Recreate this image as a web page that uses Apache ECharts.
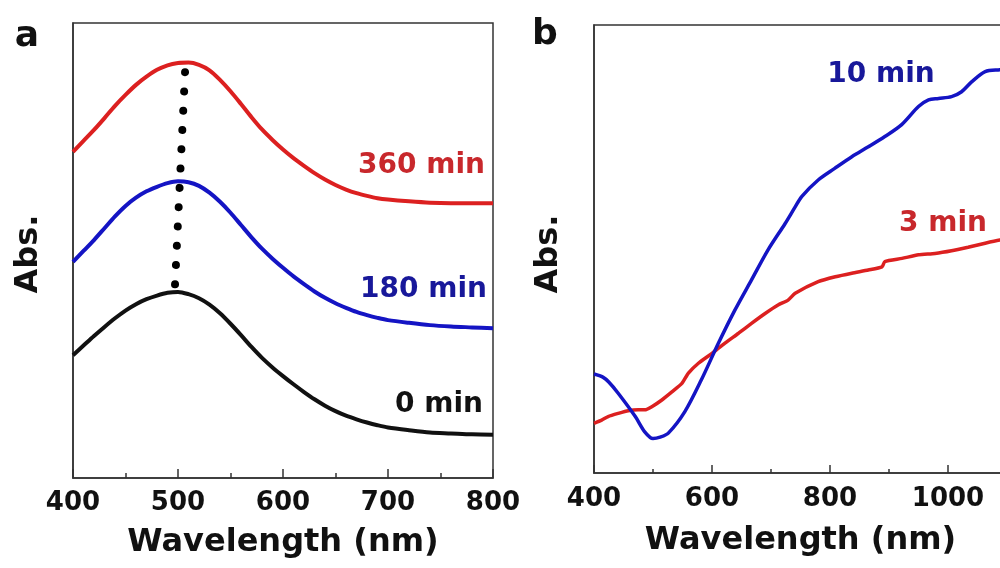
<!DOCTYPE html>
<html><head><meta charset="utf-8">
<script src="https://cdn.jsdelivr.net/npm/echarts@6/dist/echarts.min.js"></script>
<style>html,body{margin:0;padding:0;background:#fff}#c{width:1000px;height:568px}</style>
</head><body><div id="c"></div>
<script>
// ---- Panel a data (wavelength nm, absorbance a.u.) ----
const waveA      = [400, 410, 420, 430, 440, 450, 460, 470, 480, 490, 500, 510, 520, 530, 540, 550, 560, 570, 580, 590, 600, 610, 620, 630, 640, 650, 660, 670, 680, 690, 700, 720, 740, 760, 780, 800];
const abs0min    = [0.270, 0.291, 0.312, 0.332, 0.351, 0.368, 0.382, 0.393, 0.401, 0.407, 0.409, 0.404, 0.395, 0.381, 0.362, 0.339, 0.314, 0.288, 0.264, 0.243, 0.224, 0.206, 0.189, 0.173, 0.159, 0.147, 0.137, 0.129, 0.122, 0.116, 0.111, 0.105, 0.100, 0.098, 0.096, 0.095];
const abs180min  = [0.475, 0.499, 0.523, 0.549, 0.575, 0.598, 0.616, 0.630, 0.640, 0.648, 0.652, 0.650, 0.642, 0.627, 0.607, 0.583, 0.556, 0.529, 0.504, 0.482, 0.462, 0.443, 0.426, 0.410, 0.396, 0.384, 0.374, 0.365, 0.358, 0.352, 0.347, 0.341, 0.336, 0.333, 0.331, 0.329];
const abs360min  = [0.717, 0.741, 0.765, 0.791, 0.818, 0.842, 0.864, 0.882, 0.897, 0.907, 0.912, 0.913, 0.908, 0.896, 0.875, 0.850, 0.822, 0.793, 0.766, 0.743, 0.722, 0.703, 0.686, 0.670, 0.656, 0.644, 0.634, 0.626, 0.620, 0.615, 0.612, 0.608, 0.605, 0.604, 0.604, 0.604];
// peak-shift guide (dotted)
const peakWave   = [506.7, 497.1];
const peakAbs    = [0.892, 0.422];

// ---- Panel b data ----
const wave10 = [400, 415, 425, 441, 470, 486, 500, 512, 526, 554, 582, 611, 639, 667, 695, 724, 741, 752, 780, 808, 837, 865, 893, 921, 950, 967, 984, 1006, 1023, 1040, 1063, 1088, 1100];
const abs10  = [0.221, 0.214, 0.203, 0.178, 0.126, 0.092, 0.077, 0.080, 0.089, 0.137, 0.208, 0.290, 0.364, 0.431, 0.498, 0.557, 0.594, 0.617, 0.654, 0.680, 0.706, 0.728, 0.751, 0.777, 0.818, 0.833, 0.836, 0.840, 0.851, 0.873, 0.896, 0.900, 0.901];
const wave3  = [400, 413, 424, 441, 458, 475, 486, 498, 515, 532, 549, 560, 577, 600, 622, 645, 667, 690, 712, 729, 741, 780, 809, 837, 865, 888, 893, 922, 950, 978, 1006, 1034, 1063, 1088, 1100];
const abs3   = [0.111, 0.118, 0.126, 0.133, 0.139, 0.141, 0.141, 0.148, 0.163, 0.181, 0.200, 0.223, 0.245, 0.267, 0.290, 0.312, 0.334, 0.356, 0.375, 0.386, 0.401, 0.427, 0.438, 0.446, 0.453, 0.460, 0.472, 0.479, 0.487, 0.490, 0.496, 0.504, 0.513, 0.520, 0.522];

// ---- Text ----
const seriesNamesA = ['0 min', '180 min', '360 min'];
const seriesNamesB = ['3 min', '10 min'];
const xTitle = 'Wavelength (nm)';
const yTitle = 'Abs.';
const panelLetters = ['a', 'b'];

const FF = '"DejaVu Sans", "Liberation Sans", sans-serif';
const RED = '#dc2020', BLUE = '#1414c4', BLACK = '#111111';
const RED_T = '#c8282c', BLUE_T = '#18189a';
const zip = (xs, ys) => xs.map((x, i) => [x, ys[i]]);

function xAxisCfg(grid, min, max, interval, gap, margin, majorLen, minorLen, hideMax) {
  return {
    gridIndex: grid, type: 'value', min: min, max: max, interval: interval,
    axisLine: { show: true, lineStyle: { color: '#333', width: 1.5 } },
    axisTick: { show: true, inside: true, length: majorLen, lineStyle: { color: '#333', width: 1.5 } },
    minorTick: { show: true, splitNumber: 2, length: minorLen, lineStyle: { color: '#333', width: 1.5 } },
    splitLine: { show: false }, minorSplitLine: { show: false },
    axisLabel: { margin: margin, fontSize: 26, fontWeight: 'bold', fontFamily: FF, color: BLACK, showMaxLabel: !hideMax,
      formatter: v => String(v) },
    name: xTitle, nameLocation: 'middle', nameGap: gap,
    nameTextStyle: { fontSize: 32, fontWeight: 'bold', fontFamily: FF, color: BLACK }
  };
}
function yAxisCfg(grid) {
  return {
    gridIndex: grid, type: 'value', min: 0, max: 1,
    axisLine: { show: true, lineStyle: { color: '#333', width: 1.5 } },
    axisTick: { show: false }, axisLabel: { show: false }, splitLine: { show: false }
  };
}
function txt(text, x, y, color, size, align, rot) {
  return {
    type: 'text', x: x, y: y, rotation: rot || 0, z: 100,
    style: { text: text, fill: color, font: 'bold ' + size + 'px ' + FF, align: align, verticalAlign: 'middle' }
  };
}

const chart = echarts.init(document.getElementById('c'), null, { renderer: 'canvas' });
chart.setOption({
  animation: false,
  backgroundColor: '#ffffff',
  grid: [
    { left: 73, top: 23, width: 420, height: 455, show: true, borderColor: '#333', borderWidth: 1.5, backgroundColor: 'transparent', outerBoundsMode: 'none', containLabel: false },
    { left: 594, top: 25, width: 413, height: 448, show: true, borderColor: '#333', borderWidth: 1.5, backgroundColor: 'transparent', outerBoundsMode: 'none', containLabel: false }
  ],
  xAxis: [
    xAxisCfg(0, 400, 800, 100, 49, 12, 9, 5, false),
    xAxisCfg(1, 400, 1100, 200, 52, 13, 8, 4, true)
  ],
  yAxis: [yAxisCfg(0), yAxisCfg(1)],
  series: [
    { name: seriesNamesA[0], type: 'line', xAxisIndex: 0, yAxisIndex: 0, data: zip(waveA, abs0min), smooth: 0.3, symbol: 'none', lineStyle: { color: BLACK, width: 4 } },
    { name: seriesNamesA[1], type: 'line', xAxisIndex: 0, yAxisIndex: 0, data: zip(waveA, abs180min), smooth: 0.3, symbol: 'none', lineStyle: { color: BLUE, width: 4 } },
    { name: seriesNamesA[2], type: 'line', xAxisIndex: 0, yAxisIndex: 0, data: zip(waveA, abs360min), smooth: 0.3, symbol: 'none', lineStyle: { color: RED, width: 4 } },
    { name: 'peak', type: 'line', xAxisIndex: 0, yAxisIndex: 0, data: zip(peakWave, peakAbs), symbol: 'none', z: 5,
      lineStyle: { color: '#000', width: 8, type: [0.01, 19.3], cap: 'round' } },
    { name: seriesNamesB[0], type: 'line', xAxisIndex: 1, yAxisIndex: 1, data: zip(wave3, abs3), smooth: 0.2, symbol: 'none', lineStyle: { color: RED, width: 3.5 } },
    { name: seriesNamesB[1], type: 'line', xAxisIndex: 1, yAxisIndex: 1, data: zip(wave10, abs10), smooth: 0.3, symbol: 'none', lineStyle: { color: BLUE, width: 3.5 } }
  ],
  graphic: [
    txt(seriesNamesA[2], 485, 166, RED_T, 28, 'right'),
    txt(seriesNamesA[1], 487, 290, BLUE_T, 28, 'right'),
    txt(seriesNamesA[0], 483, 405, BLACK, 28, 'right'),
    txt(seriesNamesB[1], 881, 75, BLUE_T, 28, 'center'),
    txt(seriesNamesB[0], 943, 224, RED_T, 28, 'center'),
    txt(yTitle, 29, 254, BLACK, 32, 'center', Math.PI / 2),
    txt(yTitle, 549, 254, BLACK, 32, 'center', Math.PI / 2),
    txt(panelLetters[0], 27, 37, BLACK, 36, 'center'),
    txt(panelLetters[1], 545, 35, BLACK, 36, 'center')
  ]
});
</script></body></html>
